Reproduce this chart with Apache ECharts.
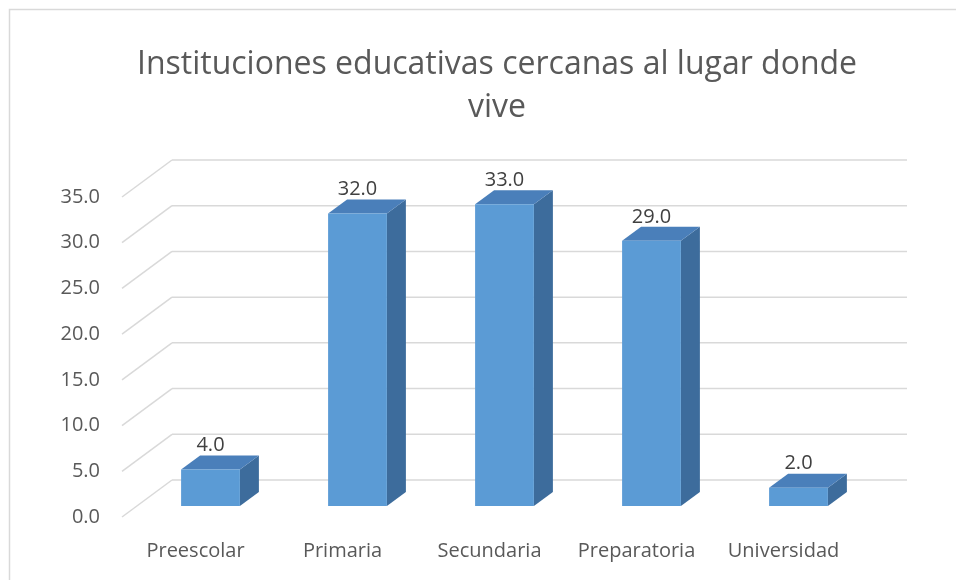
<!DOCTYPE html>
<html>
<head>
<meta charset="utf-8">
<script src="https://cdn.jsdelivr.net/npm/echarts@6/dist/echarts.min.js"></script>
<style>
  html, body { margin: 0; padding: 0; background: #fff; }
  #chart { width: 956px; height: 580px; }
</style>
</head>
<body>
<div id="chart"></div>
<script>
// datos del grafico
var categorias = ['Preescolar', 'Primaria', 'Secundaria', 'Preparatoria', 'Universidad'];
var valores = [4.0, 32.0, 33.0, 29.0, 2.0];
var ticks = [0, 5, 10, 15, 20, 25, 30, 35];

// desplazamientos para el efecto 3D (plano frontal del piso -> barra -> pared del fondo)
var BAR_OFF = [15, -11];
var BAR_DEPTH = [19, -14];
var WALL_OFF = [50, -37];
var FONT = '"Open Sans", "Noto Sans", sans-serif';

var chart = echarts.init(document.getElementById('chart'), null, { renderer: 'canvas' });

function renderWall(params, api) {
  var cs = params.coordSys;
  var y = api.coord([0, api.value(0)])[1];
  var lineStyle = { stroke: '#D9D9D9', lineWidth: 1.5 };
  return {
    type: 'group',
    children: [
      {
        type: 'line',
        shape: { x1: cs.x, y1: y, x2: cs.x + WALL_OFF[0], y2: y + WALL_OFF[1] },
        style: lineStyle
      },
      {
        type: 'line',
        shape: { x1: cs.x + WALL_OFF[0], y1: y + WALL_OFF[1], x2: cs.x + cs.width + WALL_OFF[0], y2: y + WALL_OFF[1] },
        style: lineStyle
      }
    ]
  };
}

function renderBar(params, api) {
  var i = api.value(0);
  var v = api.value(1);
  var base = api.coord([i, 0]);
  var top = api.coord([i, v]);
  var band = api.size([1, 0])[0];
  var w = band * 0.4;
  var cx = base[0] + BAR_OFF[0];
  var x0 = cx - w / 2, x1 = cx + w / 2;
  var yb = base[1] + BAR_OFF[1];
  var yt = top[1] + BAR_OFF[1];
  var dx = BAR_DEPTH[0], dy = BAR_DEPTH[1];
  return {
    type: 'group',
    children: [
      {
        type: 'polygon',
        shape: { points: [[x1, yt], [x1 + dx, yt + dy], [x1 + dx, yb + dy], [x1, yb]] },
        style: { fill: '#3D6C9C' }
      },
      {
        type: 'polygon',
        shape: { points: [[x0, yt], [x1, yt], [x1 + dx, yt + dy], [x0 + dx, yt + dy]] },
        style: { fill: '#4A7FBA' }
      },
      {
        type: 'rect',
        shape: { x: x0, y: yt, width: w, height: yb - yt },
        style: { fill: '#5B9BD5' }
      },
      {
        type: 'text',
        style: {
          x: cx, y: yt + dy - 10,
          text: v.toFixed(1),
          align: 'center', verticalAlign: 'middle',
          fill: '#404040', font: '20px ' + FONT
        }
      }
    ]
  };
}

var option = {
  backgroundColor: '#fff',
  animation: false,
  title: {
    text: 'Instituciones educativas cercanas al lugar donde\nvive',
    left: 492,
    top: 38,
    textAlign: 'center',
    textStyle: {
      fontFamily: FONT,
      fontSize: 32,
      fontWeight: 'normal',
      color: '#595959',
      lineHeight: 43
    }
  },
  graphic: [
    {
      type: 'rect',
      shape: { x: 9.5, y: 9.5, width: 1000, height: 1000 },
      style: { fill: 'none', stroke: '#D9D9D9', lineWidth: 1.5 },
      silent: true
    }
  ],
  grid: { left: 122, right: 99, top: 197, bottom: 63 },
  xAxis: {
    type: 'category',
    data: categorias,
    axisLine: { show: false },
    axisTick: { show: false },
    axisLabel: { interval: 0, fontFamily: FONT, fontSize: 20, color: '#595959', margin: 24 }
  },
  yAxis: {
    type: 'value',
    min: 0,
    max: 35,
    interval: 5,
    axisLine: { show: false },
    axisTick: { show: false },
    splitLine: { show: false },
    axisLabel: {
      fontFamily: FONT, fontSize: 20, color: '#595959', margin: 22,
      formatter: function (v) { return v.toFixed(1); }
    }
  },
  series: [
    {
      type: 'custom',
      name: 'pared',
      renderItem: renderWall,
      data: ticks.map(function (t) { return [t]; }),
      encode: { y: 0 },
      silent: true,
      z: 1
    },
    {
      type: 'custom',
      name: 'valores',
      renderItem: renderBar,
      data: valores.map(function (v, i) { return [i, v]; }),
      encode: { x: 0, y: 1 },
      z: 2
    }
  ]
};

chart.setOption(option);
</script>
</body>
</html>
